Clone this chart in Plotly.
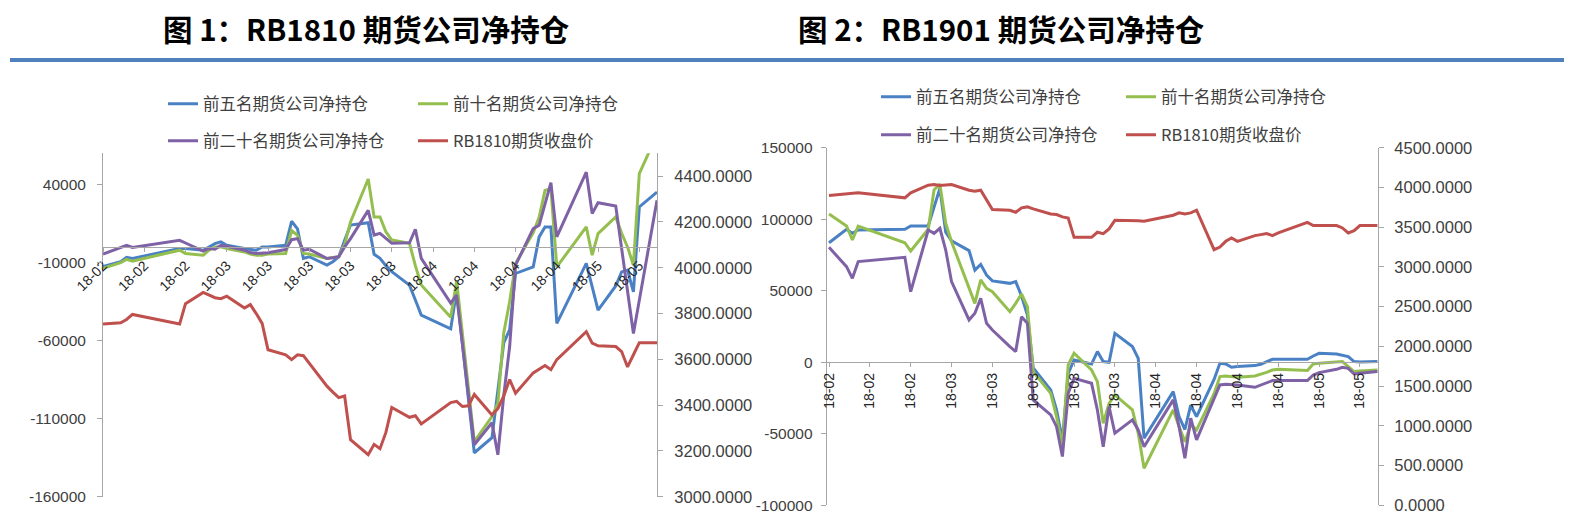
import plotly.graph_objects as go

# trading days shared by both panels
dates = [
    "2018-02-09", "2018-02-12", "2018-02-13", "2018-02-14", "2018-02-22", "2018-02-23",
    "2018-02-26", "2018-02-27", "2018-02-28", "2018-03-01", "2018-03-02", "2018-03-05",
    "2018-03-06", "2018-03-07", "2018-03-08", "2018-03-09", "2018-03-12", "2018-03-13",
    "2018-03-14", "2018-03-15", "2018-03-16", "2018-03-19", "2018-03-20", "2018-03-21",
    "2018-03-22", "2018-03-23", "2018-03-26", "2018-03-27", "2018-03-28", "2018-03-29",
    "2018-03-30", "2018-04-02", "2018-04-03", "2018-04-04", "2018-04-09", "2018-04-10",
    "2018-04-11", "2018-04-12", "2018-04-13", "2018-04-16", "2018-04-17", "2018-04-18",
    "2018-04-19", "2018-04-20", "2018-04-23", "2018-04-24", "2018-04-25", "2018-04-26",
    "2018-04-27", "2018-05-02", "2018-05-03", "2018-05-04", "2018-05-07", "2018-05-08",
    "2018-05-09", "2018-05-10", "2018-05-11", "2018-05-14",
]

names = ["前五名期货公司净持仓", "前十名期货公司净持仓", "前二十名期货公司净持仓", "RB1810期货收盘价"]
colors = ["#4a81c4", "#94bf4f", "#7f62a6", "#c0504d"]

# ---- 图1 RB1810 ----
top5_1810 = [
    -12600, -9500, -6700, -7400, -1000, -1000, -2100, 0, 2100, 3200, 1000, -1000,
    -1500, -2100, 0, 0, 1000, 16400, 11600, -7400, -6300, -11600, -9500, -6300,
    4200, 14000, 15500, -4700, -7300, -12000, -15900, -24500, -34000, -43700, -52500, -28000,
    None, None, -131800, -122200, None, -61400, -53000, -17000, -12800, 6400, 12800, 12800,
    -49000, -10600, None, -40500, -25000, -16000, -14900, -28800, 25600, 35100,
]
top10_1810 = [
    -13700, -10100, -8000, -9100, -2100, -4200, -5300, -2100, 0, 0, -1000, -3200,
    -4600, -5300, -5300, -4600, -4200, 10500, 7400, -4200, -4600, -7400, -6700, -6300,
    1500, 16000, 43500, 19200, 19200, 9700, 4400, 2300, -12000, -24400, -45000, -22000,
    None, None, -124600, -108600, -100000, -55000, -35000, -10600, 9200, 19000, 36200, 37300,
    -12800, 12800, -5300, 8500, 19200, 8700, 0, -11700, 46900, 72000,
]
top20_1810 = [
    -4600, -600, 1000, -400, 4200, 2500, -2700, -1000, -1500, 1000, 400, -2100,
    -3600, -4200, -4200, -3800, -1700, 4600, 5300, -2100, -1500, -7400, -7000, -6300,
    0, 5300, 23400, 7600, 8700, 5500, 2300, 2600, 11300, -7300, -36000, -30800,
    None, None, -126700, -112600, -133100, -95000, -63800, -11700, 11700, 13800, 27500, 41100,
    6400, 47900, 21300, 28300, 26200, None, None, -55400, None, 29800,
]
close_1810_a = [
    3754, 3760, 3774, 3796, 3754, 3843, 3892, 3880, 3869, 3865, 3876, 3824,
    3839, 3800, 3757, 3642, 3620, 3599, 3620, 3616, 3584, 3483, 3457, 3433,
    3440, 3249, 3184, 3229, 3210, 3281, 3390, 3347, 3354, 3318, 3411, 3417,
    3394, 3397, 3447, 3357, 3385, 3440, 3512, 3452, 3541, 3558, 3573, 3555,
    3599, 3721, 3671, 3659, 3656, 3634, 3567, 3620, 3673, 3673,
]

# ---- 图2 RB1901 ----
top5_1901 = [
    83600, 93000, 90200, 92500, 93000, 95300, 95300, None, 121600, 90900, 85000, 78100,
    64500, 68500, 61000, 56900, 55200, 56400, 46400, 33000, -4000, -19300, -33300, -54300,
    -7700, 1600, -1200, 7500, 500, 0, 20300, 11000, 2800, -53100, -20500, -38000,
    -47000, -30000, -38000, -12000, -700, -1200, -3500, -3000, -2300, -1400, 500, 2100,
    2100, 2100, 4400, 6300, 5800, 5100, 4000, 500, 200, 500,
]
top10_1901 = [
    103700, 95300, 85500, 95300, 83600, 77800, 93000, 120500, 124700, 97200, 84300, 51300,
    41200, 57600, 51700, 49400, 35400, 41200, 47800, 38900, -6500, -21700, -38000, -58900,
    -1900, 6300, -5400, -13500, -42600, -28700, -22800, -33300, -49600, -74100, -33300, -45000,
    -55500, -43800, -47300, -22000, -10000, -9600, -10000, -10500, -9600, -8400, -7000, -5400,
    -4900, -5800, -1200, -700, 0, 500, -3000, -6500, -6000, -5400,
]
top20_1901 = [
    80400, 66900, 58700, 70400, 73400, 49400, 92500, 90200, 93700, 78500, 56400, 29600,
    34300, 44700, 27300, 22600, 11000, 7500, 31900, 27300, -26300, -36800, -45000, -65900,
    -21700, -11200, -14700, -33300, -59000, -31000, -49600, -40300, -47300, -59000, -26300, -45000,
    -67100, -39100, -54300, -26300, -15800, -15400, -15600, -15800, -17500, -15800, -14200, -12800,
    -12800, -12800, -8900, -7200, -4900, -3500, -4200, -8200, -7700, -6500,
]
close_1810_b = [
    3899, 3924, 3929, 3933, 3870, 3933, 4029, 4037, 4025, 4029, 4037, 3966,
    3953, 3966, 3840, 3722, 3714, 3689, 3744, 3756, 3731, 3668, 3660, 3630,
    3617, 3373, 3373, 3437, 3420, 3479, 3587, 3587, 3583, 3575, 3651, 3681,
    3668, 3681, 3714, 3218, 3251, 3323, 3365, 3323, 3395, 3407, 3420, 3395,
    3428, 3562, 3521, 3521, 3521, 3491, 3428, 3458, 3521, 3521,
]

# tick labels
y1_vals = [-160000, -110000, -60000, -10000, 40000]
y1_text = ["-160000", "-110000", "-60000", "-10000", "40000"]
y3_vals = [-100000, -50000, 0, 50000, 100000, 150000]
y3_text = ["-100000", "-50000", "0", "50000", "100000", "150000"]

# the page body has an 8px margin, so the figure is 8px smaller than the window
OFF = 8
W, H = 1580 - OFF, 526 - OFF


def px(x):
    return (x - OFF) / W


def py(y):
    return 1 - (y - OFF) / H


fig = go.Figure()

panels = [
    ("x", "y", "y2", [top5_1810, top10_1810, top20_1810, close_1810_a], ["legend", "legend2"]),
    ("x2", "y3", "y4", [top5_1901, top10_1901, top20_1901, close_1810_b], ["legend3", "legend4"]),
]
for xa, ya, yb, series, legs in panels:
    for i, vals in enumerate(series):
        fig.add_trace(go.Scatter(
            x=dates, y=vals, name=names[i], mode="lines",
            line=dict(color=colors[i], width=3),
            connectgaps=True,
            xaxis=xa, yaxis=yb if i == 3 else ya,
            legend=legs[0] if i < 2 else legs[1],
            hoverinfo="skip",
        ))

axis_col = "#a6a6a6"
left_font = dict(family="Liberation Sans", size=15.5, color="#404040")
right_font = dict(family="Liberation Sans", size=16.5, color="#404040")

# left panel pixel box (window coordinates)
L0, L1, T1, B1 = 103, 657, 153.2, 496.8
# right panel pixel box
R0, R1, T2, B2 = 826.7, 1378, 147.8, 505.3

common_x = dict(
    type="date", tickformat="%y-%m", dtick=7 * 86400000, tick0="2018-02-09",
    showgrid=False, showline=True, linecolor=axis_col, linewidth=1,
    ticks="outside", ticklen=4, tickcolor=axis_col,
    tickfont=dict(family="Liberation Sans", size=14, color="#262626"),
    anchor="free", zeroline=False, automargin=False,
)
common_y = dict(showgrid=False, zeroline=False, showline=True, linecolor=axis_col, linewidth=1,
                ticks="outside", ticklen=5, tickcolor=axis_col, automargin=False)

fig.update_layout(
    width=W, height=H,
    margin=dict(l=0, r=0, t=0, b=0, autoexpand=False),
    paper_bgcolor="white", plot_bgcolor="white",
    showlegend=True,
    xaxis=dict(common_x, domain=[px(L0), px(L1)], range=["2018-02-09", "2018-05-14"],
               position=py(T1 + (B1 - T1) * 60000 / 220000), tickangle=-45),
    yaxis=dict(common_y, domain=[py(B1), py(T1)], range=[-160000, 60000], anchor="x",
               tickvals=y1_vals, ticktext=y1_text, tickfont=left_font, ticklabelstandoff=8),
    yaxis2=dict(common_y, overlaying="y", side="right", anchor="x", range=[3000, 4500],
                tick0=3000, dtick=200, tickformat=".4f", tickfont=right_font,
                ticklabelstandoff=8),
    xaxis2=dict(common_x, domain=[px(R0), px(R1)],
                range=["2018-02-08 14:24", "2018-05-14 02:24"],
                position=py(T2 + (B2 - T2) * 150000 / 250000), tickangle=-90),
    yaxis3=dict(common_y, domain=[py(B2), py(T2)], range=[-100000, 150000], anchor="x2",
                tickvals=y3_vals, ticktext=y3_text, tickfont=left_font, ticklabelstandoff=5),
    yaxis4=dict(common_y, overlaying="y3", side="right", anchor="x2", range=[0, 4500],
                tick0=0, dtick=500, tickformat=".4f", tickfont=right_font,
                ticklabelstandoff=7),
)

leg_font = dict(family="Noto Sans CJK SC", size=16.5, color="#404040")
leg_common = dict(orientation="h", xanchor="left", yanchor="middle", font=leg_font,
                  entrywidthmode="pixels", bgcolor="rgba(0,0,0,0)", borderwidth=0,
                  traceorder="normal")
fig.update_layout(
    legend=dict(leg_common, x=px(163), y=py(104), entrywidth=205),
    legend2=dict(leg_common, x=px(163), y=py(141), entrywidth=205),
    legend3=dict(leg_common, x=px(876), y=py(97), entrywidth=200),
    legend4=dict(leg_common, x=px(876), y=py(135), entrywidth=200),
)

title_font = dict(family="Noto Sans CJK SC", size=29.5, color="#000000")
fig.add_annotation(text="<b>图 1：RB1810 期货公司净持仓</b>", x=px(366), y=py(28),
                   xref="paper", yref="paper", showarrow=False, font=title_font,
                   xanchor="center", yanchor="middle")
fig.add_annotation(text="<b>图 2：RB1901 期货公司净持仓</b>", x=px(1001), y=py(28),
                   xref="paper", yref="paper", showarrow=False, font=title_font,
                   xanchor="center", yanchor="middle")
fig.add_shape(type="line", xref="paper", yref="paper", x0=px(10), x1=px(1564),
              y0=py(60), y1=py(60), line=dict(color="#4f81bd", width=4))

fig.write_html("out.html")
